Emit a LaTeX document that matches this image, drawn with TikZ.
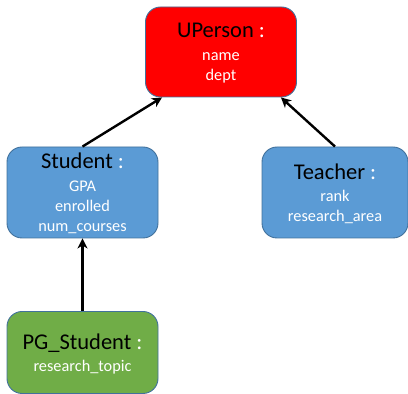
\documentclass[tikz,border=0pt]{standalone}
\usepackage{fontspec}
\setmainfont{Carlito}
\usetikzlibrary{arrows.meta,calc}
\definecolor{cred}{HTML}{FF0000}
\definecolor{cblue}{HTML}{5B9BD5}
\definecolor{cgreen}{HTML}{70AD47}
\definecolor{cedge}{HTML}{41719C}
\newcommand{\ttl}[1]{{\fontsize{22.5}{24}\selectfont\color{black}#1 \color{white}:}\\[2pt]}
\tikzset{
  box/.style={draw=cedge, line width=0.9pt, rounded corners=15pt, minimum width=151pt, text=white,
    align=center, inner sep=0pt, font=\fontsize{16.3}{20.3}\selectfont},
  inh/.style={line width=2.4pt, -{Stealth[length=10pt,width=10pt,inset=3pt]}}
}
\begin{document}
\begin{tikzpicture}[x=1pt,y=1pt]
\useasboundingbox (0,0) rectangle (408,394);
\node[box, fill=cred, minimum height=90pt, text depth=-2pt] (up) at (221,342) {\ttl{UPerson}name\\dept};
\node[box, fill=cblue, minimum height=91pt, text depth=-1.5pt] (st) at (82.5,201.5) {\ttl{Student}GPA\\enrolled\\num\_courses};
\node[box, fill=cblue, minimum height=91pt, minimum width=146pt, text depth=-0.5pt] (te) at (335,201.5) {\ttl{Teacher}rank\\research\_area};
\node[box, fill=cgreen, minimum height=82pt, text depth=-8pt] (pg) at (82.5,41.5) {\ttl{PG\_Student}research\_topic};
\coordinate (upl) at ($(up.south west)+(17,0)$);
\coordinate (upr) at ($(up.south east)+(-16,0)$);
\draw[inh] (st.north) -- (upl);
\draw[inh] (te.north) -- (upr);
\draw[inh] (pg.north) -- (st.south);
\end{tikzpicture}
\end{document}
